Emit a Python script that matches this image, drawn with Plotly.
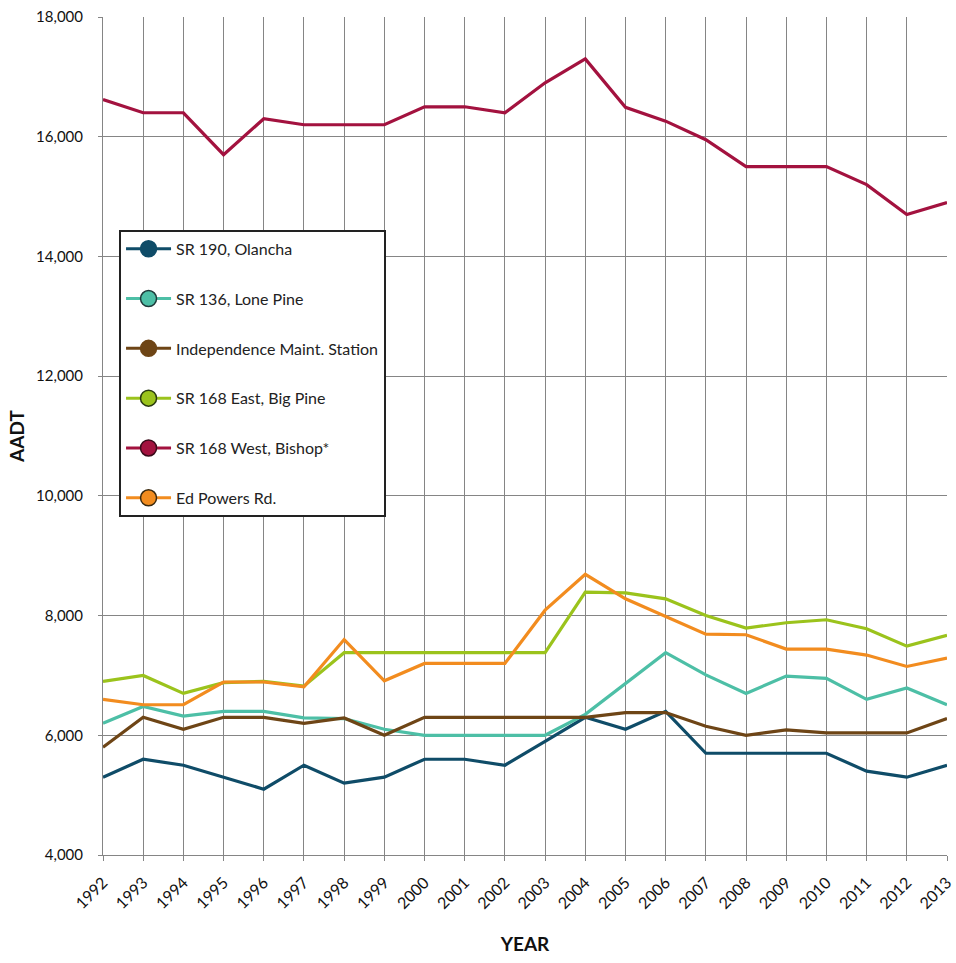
import plotly.graph_objects as go

years = list(range(1992, 2014))
year_labels = [str(y) for y in years]

olancha = [5300, 5600, 5500, 5300, 5100, 5500, 5200, 5300, 5600, 5600, 5500,
           5900, 6300, 6100, 6400, 5700, 5700, 5700, 5700, 5400, 5300, 5500]
lone_pine = [6200, 6480, 6320, 6400, 6400, 6290, 6280, 6100, 6000, 6000, 6000,
             6000, 6350, 6870, 7380, 7010, 6700, 6990, 6950, 6600, 6790, 6510]
independence = [5800, 6300, 6100, 6300, 6300, 6200, 6290, 6000, 6300, 6300, 6300,
                6300, 6300, 6380, 6380, 6150, 6000, 6090, 6040, 6040, 6040, 6280]
big_pine = [6900, 7000, 6700, 6880, 6900, 6820, 7380, 7380, 7380, 7380, 7380,
            7380, 8390, 8380, 8280, 8000, 7790, 7880, 7930, 7780, 7490, 7670]
bishop = [16620, 16400, 16400, 15700, 16300, 16200, 16200, 16200, 16500, 16500, 16400,
          16900, 17300, 16490, 16260, 15950, 15500, 15500, 15500, 15200, 14700, 14900]
ed_powers = [6600, 6510, 6510, 6890, 6890, 6810, 7600, 6910, 7200, 7200, 7200,
             8090, 8690, 8280, 7980, 7690, 7680, 7440, 7440, 7340, 7150, 7290]

series_names = ["SR 190, Olancha", "SR 136, Lone Pine", "Independence Maint. Station",
                "SR 168 East, Big Pine", "SR 168 West, Bishop*", "Ed Powers Rd."]
series_values = [olancha, lone_pine, independence, big_pine, bishop, ed_powers]
colors = ["#0f4c68", "#4dbfa6", "#6e4516", "#9bc31c", "#a3123f", "#f28c1f"]
legend_outline = ["#0f4c68", "#1f3a3a", "#6e4516", "#2a3a10", "#3a0a1a", "#3a2a10"]

y_ticks = [4000, 6000, 8000, 10000, 12000, 14000, 16000, 18000]

fig = go.Figure()

for name, vals, col in zip(series_names, series_values, colors):
    fig.add_trace(go.Scatter(x=years, y=vals, mode="lines", name=name,
                             line=dict(color=col, width=3.2), showlegend=False))

for i, (name, col, oc) in enumerate(zip(series_names, colors, legend_outline)):
    fig.add_trace(go.Scatter(x=[None], y=[None], mode="lines+markers", name=name,
                             legendgroup=f"g{i}",
                             line=dict(color=col, width=3),
                             marker=dict(color=col, size=22, line=dict(color=oc, width=1.5))))

fig.update_layout(
    width=956, height=963,
    margin=dict(l=103, r=9, t=17, b=108, autoexpand=False),
    paper_bgcolor="white", plot_bgcolor="white",
    font=dict(family="Lato, Carlito, sans-serif", color="#111", size=15),
    showlegend=True,
    legend=dict(x=0.019, y=0.746, xanchor="left", yanchor="top",
                bgcolor="white", bordercolor="#222", borderwidth=2,
                font=dict(size=16, color="#222"),
                traceorder="grouped", tracegroupgap=26,
                itemsizing="trace", itemwidth=45),
    xaxis=dict(range=[1992, 2013], tickmode="array", tickvals=years,
               ticktext=year_labels, tickangle=-45,
               ticklabeloverflow="allow", ticklabelstandoff=6,
               showgrid=True, gridcolor="#858585", gridwidth=1,
               showline=True, linecolor="#858585", linewidth=1,
               ticks="outside", ticklen=5, tickcolor="#858585",
               tickfont=dict(size=16, color="#111"),
               title=dict(text="<b>YEAR</b>", font=dict(size=19, color="#111"), standoff=26),
               automargin=False, zeroline=False),
    yaxis=dict(range=[4000, 18000], tickmode="array", tickvals=y_ticks,
               ticktext=[f"{v:,}" for v in y_ticks],
               ticklabeloverflow="allow",
               showgrid=True, gridcolor="#858585", gridwidth=1,
               showline=True, linecolor="#858585", linewidth=1,
               ticks="outside", ticklen=4, tickcolor="#858585",
               ticklabelstandoff=12,
               tickfont=dict(size=15, color="#111"),
               title=dict(text="<b>AADT</b>", font=dict(size=19, color="#111"), standoff=6),
               automargin=False, zeroline=False),
)

fig.write_html("out.html", config={"displayModeBar": False},
               post_script="document.body.style.margin='0';")
